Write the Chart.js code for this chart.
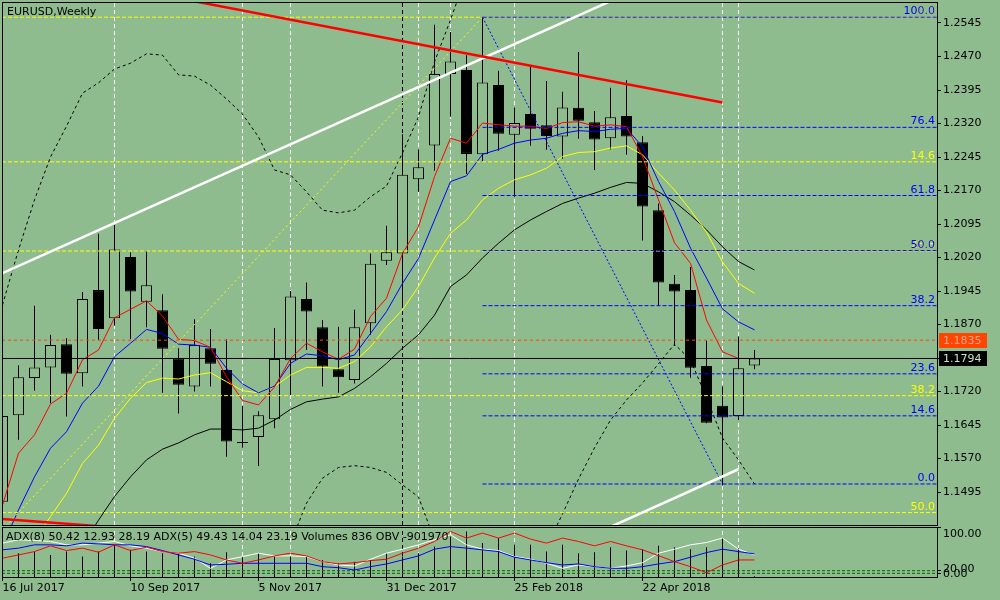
<!DOCTYPE html>
<html>
<head>
<meta charset="utf-8">
<title>EURUSD,Weekly</title>
<script src="https://cdn.jsdelivr.net/npm/chart.js@4.4.1/dist/chart.umd.min.js"></script>
<style>
  html, body { margin: 0; padding: 0; background: #8fbc8f; }
  #wrap { position: relative; width: 1000px; height: 600px; overflow: hidden; background: #8fbc8f; }
  #main { position: absolute; left: 0; top: 0; }
  #pane { position: absolute; left: 0; top: 520px; }
</style>
</head>
<body>
<div id="wrap">
  <canvas id="main" width="1000" height="530"></canvas>
  <canvas id="pane" width="1000" height="80"></canvas>
</div>
<script>
Chart.defaults.font.family = '"DejaVu Sans", sans-serif';
Chart.defaults.font.size = 11;
Chart.defaults.color = '#000';
Chart.defaults.animation = false;

const bg = '#8fbc8f';

// weekly candles, index 0 = week of 16 Jul 2017
const opens  = [1.1473, 1.1667, 1.1750, 1.1774, 1.1826, 1.1761, 1.1947, 1.1884, 1.2021, 1.1921,
                1.1902, 1.1794, 1.1731, 1.1817, 1.1768, 1.1605, 1.1618, 1.1658, 1.1790, 1.1927,
                1.1864, 1.1770, 1.1746, 1.1873, 1.2013, 1.2029, 1.2195, 1.2271, 1.2431, 1.2440,
                1.2251, 1.2406, 1.2295, 1.2341, 1.2316, 1.2291, 1.2355, 1.2323, 1.2287, 1.2337,
                1.2278, 1.2126, 1.1961, 1.1947, 1.1777, 1.1688, 1.1665, 1.1778];
const highs  = [1.1683, 1.1779, 1.1912, 1.1847, 1.1839, 1.1943, 1.2073, 1.2093, 1.2032, 1.2035,
                1.1938, 1.1817, 1.1882, 1.1860, 1.1837, 1.1688, 1.1676, 1.1862, 1.1945, 1.1964,
                1.1880, 1.1865, 1.1903, 1.2029, 1.2091, 1.2296, 1.2262, 1.2541, 1.2525, 1.2473,
                1.2559, 1.2438, 1.2356, 1.2447, 1.2415, 1.2391, 1.2480, 1.2348, 1.2400, 1.2417,
                1.2292, 1.2141, 1.1981, 1.1999, 1.1834, 1.1731, 1.1843, 1.1813];
const lows   = [1.1455, 1.1612, 1.1722, 1.1694, 1.1664, 1.1731, 1.1835, 1.1867, 1.1837, 1.1864,
                1.1717, 1.1671, 1.1720, 1.1731, 1.1574, 1.1594, 1.1553, 1.1638, 1.1712, 1.1813,
                1.1731, 1.1717, 1.1738, 1.1847, 1.2003, 1.1916, 1.2167, 1.2214, 1.2335, 1.2207,
                1.2235, 1.2259, 1.2156, 1.2270, 1.2261, 1.2241, 1.2286, 1.2216, 1.2262, 1.2250,
                1.2058, 1.1912, 1.1822, 1.1751, 1.1649, 1.1510, 1.1656, 1.1770];
const closes = [1.1665, 1.1752, 1.1774, 1.1824, 1.1760, 1.1927, 1.1860, 1.2038, 1.1944, 1.1958,
                1.1816, 1.1735, 1.1824, 1.1782, 1.1608, 1.1607, 1.1667, 1.1793, 1.1933, 1.1899,
                1.1776, 1.1752, 1.1864, 1.2006, 1.2032, 1.2205, 1.2222, 1.2431, 1.2459, 1.2252,
                1.2412, 1.2297, 1.2321, 1.2308, 1.2292, 1.2356, 1.2326, 1.2284, 1.2334, 1.2291,
                1.2134, 1.1964, 1.1944, 1.1773, 1.1650, 1.1662, 1.1772, 1.1794];

// moving averages
const maRed    = [1.1466, 1.1582, 1.1623, 1.1692, 1.1716, 1.1791, 1.1813, 1.1885, 1.1904, 1.1923,
                  1.1889, 1.1837, 1.1834, 1.1819, 1.1753, 1.1700, 1.1690, 1.1730, 1.1794, 1.1828,
                  1.1809, 1.1792, 1.1815, 1.1888, 1.1929, 1.2029, 1.2089, 1.2201, 1.2287, 1.2276,
                  1.2321, 1.2317, 1.2314, 1.2314, 1.2309, 1.2322, 1.2324, 1.2314, 1.2317, 1.2313,
                  1.2246, 1.2149, 1.2053, 1.2007, 1.1880, 1.1809, 1.1794, 1.1794];
const maBlue   = [1.1375, 1.1455, 1.1529, 1.1593, 1.1630, 1.1694, 1.1732, 1.1798, 1.1828, 1.1859,
                  1.1850, 1.1826, 1.1824, 1.1819, 1.1772, 1.1737, 1.1717, 1.1732, 1.1783, 1.1804,
                  1.1800, 1.1791, 1.1802, 1.1850, 1.1899, 1.1962, 1.2018, 1.2104, 1.2190, 1.2203,
                  1.2251, 1.2262, 1.2276, 1.2283, 1.2287, 1.2298, 1.2304, 1.2302, 1.2307, 1.2309,
                  1.2268, 1.2190, 1.2123, 1.2041, 1.1974, 1.1905, 1.1876, 1.1858];
const maYellow = [1.1276, 1.1332, 1.1388, 1.1440, 1.1492, 1.1559, 1.1600, 1.1660, 1.1705, 1.1740,
                  1.1750, 1.1748, 1.1757, 1.1762, 1.1742, 1.1722, 1.1717, 1.1731, 1.1757, 1.1774,
                  1.1774, 1.1772, 1.1787, 1.1820, 1.1865, 1.1903, 1.1955, 1.2019, 1.2074, 1.2104,
                  1.2149, 1.2175, 1.2194, 1.2205, 1.2220, 1.2246, 1.2255, 1.2257, 1.2265, 1.2270,
                  1.2250, 1.2209, 1.2171, 1.2126, 1.2077, 1.2010, 1.1962, 1.1940];
const maBlack  = [1.1097, 1.1153, 1.1209, 1.1265, 1.1321, 1.1376, 1.1432, 1.1485, 1.1529, 1.1567,
                  1.1591, 1.1605, 1.1623, 1.1636, 1.1636, 1.1634, 1.1638, 1.1656, 1.1680, 1.1697,
                  1.1703, 1.1708, 1.1727, 1.1753, 1.1783, 1.1817, 1.1847, 1.1891, 1.1955, 1.1981,
                  1.2019, 1.2052, 1.2082, 1.2104, 1.2123, 1.2141, 1.2153, 1.2164, 1.2177, 1.2188,
                  1.2186, 1.2167, 1.2145, 1.2115, 1.2082, 1.2044, 1.2011, 1.1992];
// dotted envelope, only the visible parts
const bandUpper = [1.1914, 1.2037, 1.2149, 1.2245, 1.2314, 1.2388, 1.2411, 1.2442, 1.2455, 1.2476,
                   1.2473, 1.2429, 1.2426, 1.2406, 1.2375, 1.2341, 1.2290, 1.2216, 1.2205, 1.2167,
                   1.2126, 1.2120, 1.2126, 1.2156, 1.2180, 1.2254, 1.2335, 1.2458, 1.2552, 1.2653,
                   null, null, null, null, null, null, null, null, null, null,
                   null, null, null, null, null, null, null, null];
const bandLower = [null, null, null, null, null, null, null, null, null, null,
                   null, null, null, null, null, null, null, null, 1.1381, 1.1470,
                   1.1526, 1.1550, 1.1554, 1.1550, 1.1539, 1.1511, 1.1484, 1.1388, null, null,
                   null, null, null, null, 1.1372, 1.1446, 1.1524, 1.1594, 1.1656, 1.1701,
                   1.1739, 1.1782, 1.1826, 1.1791, 1.1706, 1.1616, 1.1567, 1.1513];

// lower window (ADX / volumes), in window units
const volumes  = [45.8, 52.1, 55.0, 48.9, 55.0, 45.8, 55.0, 67.4, 58.2, 55.0,
                  52.1, 52.1, 45.8, 33.6, 53.9, 45.8, 52.1, 45.8, 47.1, 45.8,
                  39.7, 33.6, 36.6, 39.7, 52.1, 45.8, 52.1, 64.2, 82.7, 91.9,
                  70.5, 79.7, 67.4, 67.4, 55.0, 67.4, 52.1, 53.9, 63.1, 56.9,
                  59.4, 65.5, 63.1, 59.4, 63.1, 79.7, 61.3, 10];
const adxWhite = [70.5, 76.6, 75.3, 73.5, 67.4, 67.4, 70.5, 73.5, 65.5, 61.3,
                  55.0, 52.1, 42.9, 24.4, 39.7, 45.8, 52.1, 47.1, 47.1, 45.8,
                  36.6, 30.5, 28.7, 41.0, 52.1, 59.4, 67.4, 76.6, 85.8, 67.4,
                  59.4, 56.9, 45.8, 41.0, 33.6, 24.4, 30.5, 27.4, 24.4, 28.7,
                  34.7, 52.1, 59.4, 67.4, 71.6, 79.7, 59.4, 48.9];
const adxBlue  = [58.2, 61.3, 67.4, 67.4, 65.5, 70.5, 69.2, 67.4, 67.4, 64.2,
                  56.9, 48.9, 41.0, 30.5, 31.8, 33.6, 33.6, 33.6, 33.6, 33.6,
                  27.4, 25.5, 21.3, 27.4, 32.4, 39.7, 47.1, 59.4, 64.2, 61.3,
                  58.2, 55.0, 44.7, 39.7, 34.7, 30.5, 32.4, 27.4, 24.4, 24.4,
                  27.4, 32.4, 36.6, 44.7, 53.2, 59.4, 55.0, 50.8];
const adxRed   = [42.9, 48.9, 55.0, 65.5, 56.9, 61.3, 53.9, 67.4, 56.9, 63.1,
                  55.0, 52.1, 55.0, 48.9, 39.7, 33.6, 39.7, 47.1, 52.1, 47.1,
                  36.6, 32.4, 34.7, 38.4, 41.0, 52.1, 61.3, 73.5, 91.9, 79.7,
                  88.9, 79.7, 88.9, 77.9, 70.5, 79.7, 73.5, 65.5, 73.5, 65.5,
                  58.2, 47.6, 36.6, 27.4, 16.3, 30.5, 39.7, 39.7];
const paneLevels = [20, 15.2];

// axes
const priceTicks = [1.2545, 1.2470, 1.2395, 1.2320, 1.2245, 1.2170, 1.2095, 1.2020,
                    1.1945, 1.1870, 1.1795, 1.1720, 1.1645, 1.1570, 1.1495];
const dateTicks  = [0, 8, 16, 24, 32, 40];
const dateLabels = ['16 Jul 2017', '10 Sep 2017', '5 Nov 2017', '31 Dec 2017', '25 Feb 2018', '22 Apr 2018'];

// fibo objects
const fibBlueLevels = [0, 14.6, 23.6, 38.2, 50, 61.8, 76.4, 100];
const fibBlueLow = 1.1513, fibBlueHigh = 1.2558, fibBlueFrom = 30, fibBlueTo = 45;
const fibYellowLevels = [0, 14.6, 23.6, 38.2, 50];
const fibYellowHigh = 1.2558, fibYellowLow = 1.0340, fibYellowFrom = -28, fibYellowTo = 30;

// trend lines [x1, y1, x2, y2]
const redTop      = [0, 1.2676, 45, 1.2367];
const redBottom   = [0, 1.14347, 8, 1.14133];
const whiteUpper  = [0, 1.1985, 40, 1.2626];
const whiteLower  = [38, 1.1417, 46, 1.1546];
const vWhite = [7, 15, 18, 26, 28, 32, 45, 46];
const vBlack = [25];
const bidPrice = 1.1794, markPrice = 1.1835;

const xMin = -0.03125, xMax = 58.40625;
const priceMin = 1.14212, priceMax = 1.25920;
const paneMin = 8.5, paneMax = 100;

const xs = opens.map((_, i) => i);
const pts = arr => arr.map((v, i) => ({x: i, y: v}));
const seg = a => [{x: a[0], y: a[1]}, {x: a[2], y: a[3]}];
// keep chart.js from reserving room for half tick labels
const noPad = s => { s.paddingTop = 0; s.paddingBottom = 0; s.paddingLeft = 0; s.paddingRight = 0; };

function line(data, color, extra) {
    return Object.assign({
        type: 'line', data: data, borderColor: color, borderWidth: 1,
        pointRadius: 0, tension: 0, fill: false, spanGaps: false, clip: 0, order: 2
    }, extra || {});
}

// ---------- main window ----------
const mainSets = [];
vWhite.forEach(i => mainSets.push(line(seg([i, priceMin, i, priceMax]), '#ffffff', {borderDash: [4, 3], order: 40})));
vBlack.forEach(i => mainSets.push(line(seg([i, priceMin, i, priceMax]), '#000000', {borderDash: [4, 3], order: 40})));

mainSets.push({
    type: 'bar', data: xs.map(i => ({x: i, y: [lows[i], highs[i]]})),
    backgroundColor: '#000', borderWidth: 0, barThickness: 1, grouped: false, inflateAmount: 0, order: 31
});
mainSets.push({
    type: 'bar', data: xs.map(i => ({x: i, y: [opens[i], closes[i]]})),
    backgroundColor: c => closes[c.dataIndex] >= opens[c.dataIndex] ? bg : '#000',
    borderColor: '#000', borderWidth: 1, borderSkipped: false,
    barThickness: 11, grouped: false, inflateAmount: 0, order: 30
});

mainSets.push(line(pts(bandUpper), '#000', {borderDash: [3, 3], order: 8}));
mainSets.push(line(pts(bandLower), '#000', {borderDash: [3, 3], order: 8}));
mainSets.push(line(pts(maBlack), '#000', {order: 7}));
mainSets.push(line(pts(maYellow), '#ffff00', {order: 6}));
mainSets.push(line(pts(maBlue), '#0000ff', {order: 5}));
mainSets.push(line(pts(maRed), '#ff0000', {order: 4}));

fibYellowLevels.forEach(L => {
    const p = fibYellowHigh - L / 100 * (fibYellowHigh - fibYellowLow);
    mainSets.push(line(seg([xMin, p, xMax, p]), '#ffff00', {borderDash: [4, 2], order: 3}));
});
mainSets.push(line(seg([fibYellowFrom, fibYellowLow, fibYellowTo, fibYellowHigh]), '#ffff00', {borderDash: [2, 3], order: 3}));
fibBlueLevels.forEach(L => {
    const p = fibBlueLow + L / 100 * (fibBlueHigh - fibBlueLow);
    mainSets.push(line(seg([fibBlueFrom, p, xMax, p]), '#0000ff', {borderDash: [4, 2], order: 2}));
});
mainSets.push(line(seg([fibBlueFrom, fibBlueHigh, fibBlueTo, fibBlueLow]), '#0000ff', {borderDash: [2, 2], order: 2}));

mainSets.push(line(seg([xMin, markPrice, xMax, markPrice]), '#ff4500', {borderDash: [3, 3], order: 2}));
mainSets.push(line(seg([xMin, bidPrice, xMax, bidPrice]), '#000', {order: 2}));

mainSets.push(line(seg(redTop), '#ff0000', {borderWidth: 2.5, order: 1}));
mainSets.push(line(seg(redBottom), '#ff0000', {borderWidth: 2.5, order: 1}));
mainSets.push(line(seg(whiteUpper), '#ffffff', {borderWidth: 2.5, order: 1}));
mainSets.push(line(seg(whiteLower), '#ffffff', {borderWidth: 2.5, order: 1}));

const mainDecor = {
    id: 'mainDecor',
    afterDraw(chart) {
        const {ctx, chartArea: a, scales: {y}} = chart;
        ctx.save();
        ctx.font = '11px "DejaVu Sans"';
        ctx.textAlign = 'right';
        ctx.textBaseline = 'alphabetic';
        // fibo captions, yellow first, blue on top
        ctx.fillStyle = '#ffff00';
        fibYellowLevels.forEach(L => {
            const p = fibYellowHigh - L / 100 * (fibYellowHigh - fibYellowLow);
            ctx.fillText(L.toFixed(1), 935, y.getPixelForValue(p) - 3);
        });
        ctx.fillStyle = '#0000ff';
        fibBlueLevels.forEach(L => {
            const p = fibBlueLow + L / 100 * (fibBlueHigh - fibBlueLow);
            ctx.fillText(L.toFixed(1), 935, y.getPixelForValue(p) - 3);
        });
        // frame
        ctx.strokeStyle = '#000';
        ctx.lineWidth = 1;
        ctx.strokeRect(a.left + 0.5, a.top + 0.5, a.right - a.left, a.bottom - a.top);
        // title
        ctx.textAlign = 'left';
        ctx.textBaseline = 'middle';
        ctx.fillStyle = '#000';
        ctx.fillText('EURUSD,Weekly', 7, 12);
        // price boxes on the axis
        const box = (p, fill, txt) => {
            const py = Math.round(y.getPixelForValue(p));
            ctx.fillStyle = fill;
            ctx.fillRect(939, py - 7, 48, 15);
            ctx.fillStyle = txt;
            ctx.fillText(p.toFixed(4), 943, py + 1);
        };
        box(markPrice, '#ff4500', '#ffa585');
        box(bidPrice, '#000000', '#c8e0c8');
        ctx.restore();
    }
};

new Chart(document.getElementById('main'), {
    type: 'bar',
    data: {datasets: mainSets},
    options: {
        responsive: false,
        events: [],
        layout: {padding: {left: 2, top: 2, right: 0, bottom: 5}},
        plugins: {legend: {display: false}, tooltip: {enabled: false}},
        scales: {
            x: {type: 'linear', min: xMin, max: xMax, offset: false, display: false},
            y: {
                position: 'right', min: priceMin, max: priceMax, beginAtZero: false,
                border: {display: false},
                grid: {drawOnChartArea: false, drawTicks: true, tickLength: 4, color: '#000'},
                ticks: {padding: 2, color: '#000', callback: v => v.toFixed(4)},
                afterBuildTicks: s => { s.ticks = priceTicks.map(v => ({value: v})); },
                afterFit: s => { s.width = 63; noPad(s); }
            }
        }
    },
    plugins: [mainDecor]
});

// ---------- indicator window ----------
const paneSets = [];
vWhite.forEach(i => paneSets.push(line(seg([i, paneMin, i, paneMax]), '#ffffff', {borderDash: [4, 3], order: 40})));
vBlack.forEach(i => paneSets.push(line(seg([i, paneMin, i, paneMax]), '#000000', {borderDash: [4, 3], order: 40})));
paneSets.push({
    type: 'bar', data: pts(volumes), backgroundColor: '#000', borderWidth: 0,
    barThickness: 1, grouped: false, inflateAmount: 0, order: 30
});
paneLevels.forEach(v => paneSets.push(line(seg([xMin, v, xMax, v]), '#006400', {borderDash: [3, 2], order: 10})));
paneSets.push(line(pts(adxWhite), '#ffffff', {order: 3}));
paneSets.push(line(pts(adxBlue), '#0000ff', {order: 2}));
paneSets.push(line(pts(adxRed), '#ff0000', {order: 1}));

const paneDecor = {
    id: 'paneDecor',
    afterDraw(chart) {
        const {ctx, chartArea: a} = chart;
        ctx.save();
        ctx.strokeStyle = '#000';
        ctx.lineWidth = 1;
        ctx.strokeRect(a.left + 0.5, a.top + 0.5, a.right - a.left, a.bottom - a.top);
        ctx.font = '11px "DejaVu Sans"';
        ctx.fillStyle = '#000';
        ctx.textBaseline = 'middle';
        ctx.textAlign = 'left';
        ctx.fillText('ADX(8) 50.42 12.93 28.19 ADX(5) 49.43 14.04 23.19 Volumes 836 OBV -901970', 6, 17.5);
        ctx.fillText('100.00', 943, 14);
        ctx.fillText('20.00', 943, 49.5);
        ctx.fillText('0.00', 943, 54);
        ctx.restore();
    }
};

new Chart(document.getElementById('pane'), {
    type: 'bar',
    data: {datasets: paneSets},
    options: {
        responsive: false,
        events: [],
        layout: {padding: {left: 2, top: 7, right: 0, bottom: 0}},
        plugins: {legend: {display: false}, tooltip: {enabled: false}},
        scales: {
            x: {
                type: 'linear', min: xMin, max: xMax, offset: false, position: 'bottom',
                border: {display: false},
                grid: {drawOnChartArea: false, drawTicks: true, tickLength: 4, color: '#000', offset: false},
                ticks: {align: 'start', padding: 1, autoSkip: false, maxRotation: 0, color: '#000',
                        callback: v => dateLabels[dateTicks.indexOf(v)] || ''},
                afterBuildTicks: s => { s.ticks = dateTicks.map(v => ({value: v})); },
                afterFit: s => { s.height = 23; noPad(s); }
            },
            y: {
                position: 'right', min: paneMin, max: paneMax, beginAtZero: false,
                border: {display: false},
                grid: {drawOnChartArea: false, drawTicks: true, tickLength: 4, color: '#000'},
                ticks: {callback: () => ''},
                afterBuildTicks: s => { s.ticks = [paneMax].concat(paneLevels).map(v => ({value: v})); },
                afterFit: s => { s.width = 63; noPad(s); }
            }
        }
    },
    plugins: [paneDecor]
});
</script>
</body>
</html>
